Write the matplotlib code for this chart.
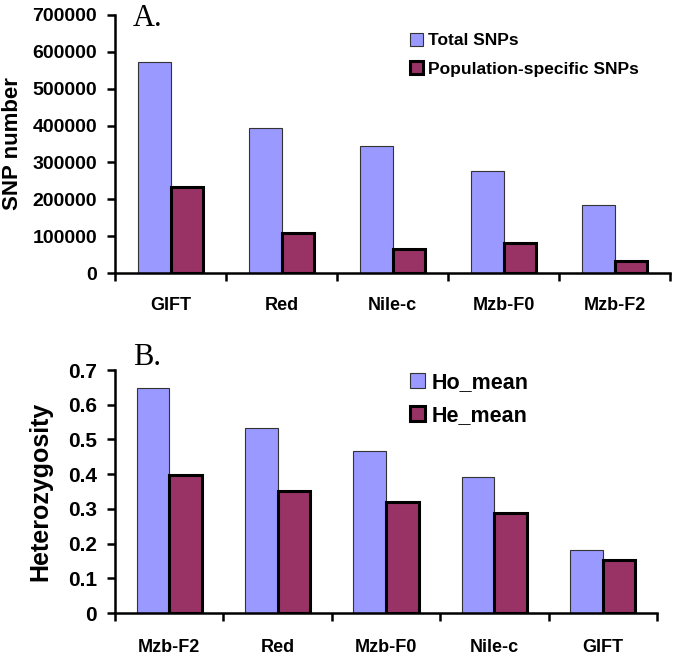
import matplotlib
matplotlib.use("Agg")
import matplotlib.pyplot as plt
import numpy as np

# --- Data ---
pops_a = ["GIFT", "Red", "Nile-c", "Mzb-F0", "Mzb-F2"]
total_snps = [572000, 393000, 344000, 277000, 185000]
specific_snps = [233000, 109000, 65000, 81000, 33000]

pops_b = ["Mzb-F2", "Red", "Mzb-F0", "Nile-c", "GIFT"]
ho_mean = [0.648, 0.533, 0.467, 0.391, 0.181]
he_mean = [0.398, 0.352, 0.319, 0.288, 0.153]

yticks_a = [0, 100000, 200000, 300000, 400000, 500000, 600000, 700000]
yticks_b = [0, 0.1, 0.2, 0.3, 0.4, 0.5, 0.6, 0.7]
yticklabels_b = ["0", "0.1", "0.2", "0.3", "0.4", "0.5", "0.6", "0.7"]

LIGHT = "#9999FF"
DARK = "#993366"
plt.rcParams["font.family"] = ["Liberation Sans", "DejaVu Sans"]
plt.rcParams["font.weight"] = "bold"

fig = plt.figure(figsize=(6.75, 6.55), dpi=100)
ax_a = fig.add_axes([0.1704, 0.5832, 0.8222, 0.3939])
ax_b = fig.add_axes([0.1704, 0.0641, 0.8029, 0.3710])


def style_axis(ax, cats, yticks, yticklabels, ylim, tick_fs, xpad):
    x = np.arange(len(cats))
    ax.set_xlim(-0.5, len(cats) - 0.5)
    ax.set_ylim(*ylim)
    for s in ["top", "right"]:
        ax.spines[s].set_visible(False)
    for s in ["left", "bottom"]:
        ax.spines[s].set_linewidth(1.8)
    ax.set_yticks(yticks)
    ax.set_yticklabels(yticklabels, fontsize=tick_fs, fontweight="bold")
    ax.set_xticks(x)
    ax.set_xticklabels(cats, fontsize=13, fontweight="bold")
    ax.set_xticks(np.arange(len(cats) + 1) - 0.5, minor=True)
    ax.tick_params(axis="x", which="major", length=0, pad=xpad)
    ax.tick_params(axis="x", which="minor", length=6, width=1.8, direction="out")
    ax.tick_params(axis="y", length=6, width=1.8, direction="out", pad=7)


# --- Panel A ---
w = 0.29
x = np.arange(len(pops_a))
ax_a.bar(x - w / 2, total_snps, w, color=LIGHT, edgecolor="#333333", linewidth=0.8,
         label="Total SNPs", zorder=2)
ax_a.bar(x + w / 2, specific_snps, w, color=DARK, edgecolor="black", linewidth=2.2,
         label="Population-specific SNPs", zorder=2)
style_axis(ax_a, pops_a, yticks_a, [str(v) for v in yticks_a], (0, 700000), 14, 17)
ax_a.set_ylabel("SNP number", fontsize=16, fontweight="bold", va="center")
ax_a.yaxis.set_label_coords(-0.185, 0.5)
ax_a.legend(loc="upper left", bbox_to_anchor=(0.531, 0.93), frameon=False,
            fontsize=12.5, handlelength=0.75, handleheight=0.75, handletextpad=0.3,
            labelspacing=0.75, borderpad=0, borderaxespad=0)
fig.text(133 / 675, 1 - 26 / 655, "A.", family="Liberation Serif", fontweight="normal",
         fontsize=22, ha="left", va="baseline")

# --- Panel B ---
w = 0.30
x = np.arange(len(pops_b))
ax_b.bar(x - w / 2, ho_mean, w, color=LIGHT, edgecolor="#333333", linewidth=0.8,
         label="Ho_mean", zorder=2)
ax_b.bar(x + w / 2, he_mean, w, color=DARK, edgecolor="black", linewidth=2.2,
         label="He_mean", zorder=2)
style_axis(ax_b, pops_b, yticks_b, yticklabels_b, (0, 0.7), 15, 19)
ax_b.set_ylabel("Heterozygosity", fontsize=18, fontweight="bold", va="center")
ax_b.yaxis.set_label_coords(-0.138, 0.5)
ax_b.legend(loc="upper left", bbox_to_anchor=(0.545, 0.99), frameon=False,
            fontsize=15.5, handlelength=0.7, handleheight=0.7, handletextpad=0.3,
            labelspacing=0.55, borderpad=0, borderaxespad=0)
fig.text(133 / 675, 1 - 365 / 655, "B.", family="Liberation Serif",
         fontweight="normal", fontsize=22, ha="left", va="baseline")

fig.savefig("out.png", dpi=100)
